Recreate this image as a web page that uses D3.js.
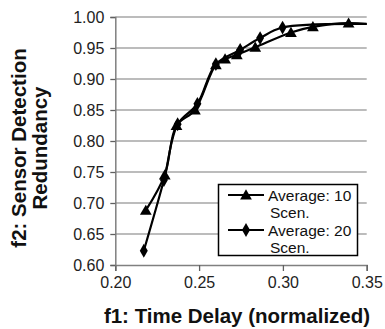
<!DOCTYPE html>
<html><head><meta charset="utf-8">
<script src="https://cdn.jsdelivr.net/npm/d3@7"></script>
<style>
html,body{margin:0;padding:0;background:#fff;}
svg{display:block;font-family:"Liberation Sans",Arial,Helvetica,sans-serif;}
</style></head>
<body>
<svg id="chart" width="385" height="329"></svg>
<script>
// ---- data ----
const avg10X = [0.2182, 0.2295, 0.2365, 0.2475, 0.2600, 0.2655, 0.2725, 0.2835, 0.3048, 0.3179, 0.3392, 0.3600];
const avg10Y = [0.688, 0.745, 0.825, 0.850, 0.923, 0.932, 0.939, 0.951, 0.975, 0.984, 0.990, 0.986];
const avg20X = [0.2170, 0.2290, 0.2372, 0.2490, 0.2600, 0.2745, 0.2864, 0.2998, 0.3700];
const avg20Y = [0.623, 0.737, 0.827, 0.860, 0.924, 0.947, 0.966, 0.983, 0.988];
const xTicks = [0.20, 0.25, 0.30, 0.35];
const yTicks = [0.60, 0.65, 0.70, 0.75, 0.80, 0.85, 0.90, 0.95, 1.00];
const seriesNames = ["Average: 10", "Average: 20"];
const xTitle = "f1: Time Delay (normalized)";
const yTitleLines = ["f2: Sensor Detection", "Redundancy"];

const svg = d3.select("#chart");
const L = 115.3, R = 366.7, T = 17, B = 265;
const x = d3.scaleLinear().domain([0.20, 0.35]).range([L, R]);
const y = d3.scaleLinear().domain([0.60, 1.00]).range([B, T]);

// gridlines
svg.append("g").selectAll("line").data(yTicks.filter(d => d > 0.6)).join("line")
  .attr("x1", L).attr("x2", R).attr("y1", d => y(d)).attr("y2", d => y(d))
  .attr("stroke", "#a6a6a6").attr("stroke-width", 1.5);

// axes
const fmt = d3.format(".2f");
const gx = svg.append("g").attr("transform", `translate(0,${B})`)
  .call(d3.axisBottom(x).tickValues(xTicks).tickFormat(fmt).tickSize(6).tickPadding(6));
const gy = svg.append("g").attr("transform", `translate(${L},0)`)
  .call(d3.axisLeft(y).tickValues(yTicks).tickFormat(fmt).tickSize(5).tickPadding(6));
[gx, gy].forEach(g => {
  g.select(".domain").attr("stroke", "#808080").attr("stroke-width", 1.5);
  g.selectAll(".tick line").attr("stroke", "#606060").attr("stroke-width", 1.3);
  g.selectAll(".tick text").attr("font-size", 16).attr("fill", "#222")
    .attr("font-family", "'Liberation Sans',Arial,sans-serif");
});

// clip
svg.append("clipPath").attr("id", "clip").append("rect")
  .attr("x", L).attr("y", 0).attr("width", R - L).attr("height", B);

const plot = svg.append("g").attr("clip-path", "url(#clip)");
const line = d3.line().x(d => x(d[0])).y(d => y(d[1])).curve(d3.curveCatmullRom.alpha(0.5));
const s10 = avg10X.map((v, i) => [v, avg10Y[i]]);
const s20 = avg20X.map((v, i) => [v, avg20Y[i]]);

plot.append("path").datum(s20).attr("d", line).attr("fill", "none").attr("stroke", "#000").attr("stroke-width", 2.2);
plot.append("path").datum(s10).attr("d", line).attr("fill", "none").attr("stroke", "#000").attr("stroke-width", 2.2);

const tri = d3.symbol().type(d3.symbolTriangle).size(60);
const dia = d3.symbol().type(d3.symbolDiamond).size(55);
plot.append("g").selectAll("path").data(s20).join("path")
  .attr("d", dia).attr("transform", d => `translate(${x(d[0])},${y(d[1])})`).attr("fill", "#000");
plot.append("g").selectAll("path").data(s10).join("path")
  .attr("d", tri).attr("transform", d => `translate(${x(d[0])},${y(d[1]) + 1})`).attr("fill", "#000");

// legend
const lg = svg.append("g");
lg.append("rect").attr("x", 218.5).attr("y", 184.5).attr("width", 139).attr("height", 71)
  .attr("fill", "#fff").attr("stroke", "#000").attr("stroke-width", 1.5);
const legendRows = [{name: seriesNames[0], sym: tri, cy: 195}, {name: seriesNames[1], sym: dia, cy: 230}];
legendRows.forEach(r => {
  lg.append("line").attr("x1", 228).attr("x2", 264).attr("y1", r.cy).attr("y2", r.cy)
    .attr("stroke", "#000").attr("stroke-width", 2);
  lg.append("path").attr("d", r.sym).attr("transform", `translate(246,${r.cy + (r.sym === tri ? 1 : 0)})`).attr("fill", "#000");
  lg.append("text").attr("x", 268).attr("y", r.cy + 5.5).attr("font-size", 15.5).attr("fill", "#111").text(r.name);
  lg.append("text").attr("x", 270).attr("y", r.cy + 22.5).attr("font-size", 15.5).attr("fill", "#111").text("Scen.");
});

// titles
svg.append("text").attr("x", 237).attr("y", 323).attr("text-anchor", "middle")
  .attr("font-size", 20.5).attr("font-weight", "bold").attr("fill", "#111").text(xTitle);
yTitleLines.forEach((t, i) => {
  svg.append("text").attr("transform", `translate(${26 + i * 21},148) rotate(-90)`)
    .attr("text-anchor", "middle").attr("font-size", 20.5).attr("font-weight", "bold").attr("fill", "#111").text(t);
});
</script>
</body></html>
